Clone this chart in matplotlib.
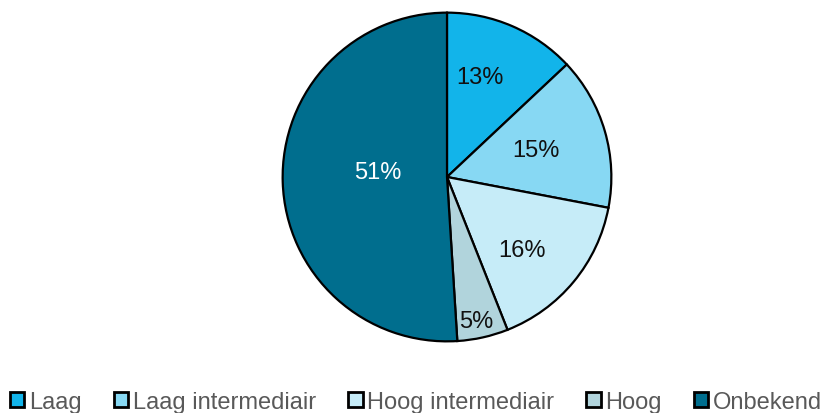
import matplotlib.pyplot as plt
from matplotlib.patches import Patch

categories = ["Laag", "Laag intermediair", "Hoog intermediair", "Hoog", "Onbekend"]
values = [13, 15, 16, 5, 51]
colors = ["#12B4EA", "#87D8F3", "#C6ECF8", "#B1D4DC", "#006E8E"]
label_colors = ["#111111", "#111111", "#111111", "#111111", "#ffffff"]
# label anchor points, in units of the pie radius
label_xy = [(0.202, 0.611), (0.542, 0.163), (0.458, -0.446), (0.178, -0.877), (-0.419, 0.030)]

plt.rcParams['font.family'] = ['Liberation Sans', 'DejaVu Sans']

W, H = 824, 414
fig = plt.figure(figsize=(W / 100, H / 100), dpi=100)
cx, cy, r = 447, 178, 166
ax = fig.add_axes([(cx - r) / W, (H - cy - r) / H, 2 * r / W, 2 * r / H])

wedges, _ = ax.pie(values, colors=colors, startangle=90, counterclock=False,
                   radius=1, wedgeprops=dict(edgecolor="black", linewidth=1.6))
ax.set_xlim(-1.01, 1.01)
ax.set_ylim(-1.01, 1.01)
ax.set_aspect("equal")
ax.axis("off")

for v, (x, y), c in zip(values, label_xy, label_colors):
    ax.text(x, y, f"{v}%", ha="center", va="center", fontsize=17, color=c)

handles = [Patch(facecolor=c, edgecolor="black", linewidth=2.0) for c in colors]
leg = fig.legend(handles, categories, loc="center", bbox_to_anchor=(416 / W, 1 - 403 / H),
                 ncol=5, frameon=False, fontsize=17, handlelength=0.62, handleheight=0.62,
                 handletextpad=0.2, columnspacing=1.35, labelcolor="#595959",
                 borderpad=0, borderaxespad=0)

fig.savefig("out.png", dpi=100)
